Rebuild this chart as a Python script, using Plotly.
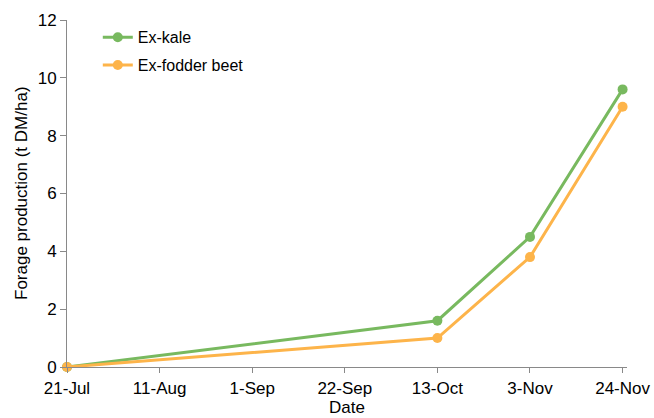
import plotly.graph_objects as go

dates = ["2014-07-21", "2014-10-13", "2014-11-03", "2014-11-24"]
ex_kale = [0, 1.6, 4.5, 9.6]
ex_fodder_beet = [0, 1.0, 3.8, 9.0]

green = "#78B95F"
orange = "#FDB44A"
axis_col = "#898989"
font = "Liberation Sans, Arial, sans-serif"

fig = go.Figure()
fig.add_trace(go.Scatter(x=dates, y=ex_kale, name="Ex-kale", mode="lines+markers",
                         legendgroup="a",
                         line=dict(color=green, width=3), marker=dict(size=10, color=green),
                         cliponaxis=False))
fig.add_trace(go.Scatter(x=dates, y=ex_fodder_beet, name="Ex-fodder beet", mode="lines+markers",
                         legendgroup="b",
                         line=dict(color=orange, width=3), marker=dict(size=10, color=orange),
                         cliponaxis=False))

fig.update_layout(
    width=654, height=418,
    margin=dict(l=67, r=27, t=20, b=51),
    plot_bgcolor="white", paper_bgcolor="white",
    font=dict(family=font, size=17, color="#000000"),
    legend=dict(x=0.055, y=0.999, xanchor="left", yanchor="top",
                bgcolor="rgba(0,0,0,0)", font=dict(size=16), itemwidth=30,
                tracegroupgap=4),
    showlegend=True,
    annotations=[
        dict(text="Date", xref="paper", yref="paper", x=0.5, y=0, yshift=-51,
             xanchor="center", yanchor="bottom", showarrow=False, font=dict(size=17),
             borderpad=0),
        dict(text="Forage production (t DM/ha)", xref="paper", yref="paper",
             x=0, xshift=-45.5, y=0.5, textangle=-90,
             xanchor="center", yanchor="middle", showarrow=False, font=dict(size=17)),
    ],
)
fig.update_xaxes(
    type="date", range=["2014-07-21", "2014-11-25"],
    tick0="2014-07-21", dtick=21 * 86400000, tickformat="%-d-%b",
    tickfont=dict(size=17), ticklabelstandoff=1,
    showgrid=False, showline=True, linecolor=axis_col, linewidth=1,
    ticks="outside", ticklen=5, tickcolor=axis_col, automargin=False, zeroline=False,
)
fig.update_yaxes(
    range=[0, 12], dtick=2, showgrid=False, showline=True, linecolor=axis_col, linewidth=1,
    ticks="outside", ticklen=6, tickcolor=axis_col, zeroline=False, automargin=False,
    tickfont=dict(size=17),
)
fig.write_html("out.html", config={"displayModeBar": False},
               post_script="document.body.style.margin='0';")
